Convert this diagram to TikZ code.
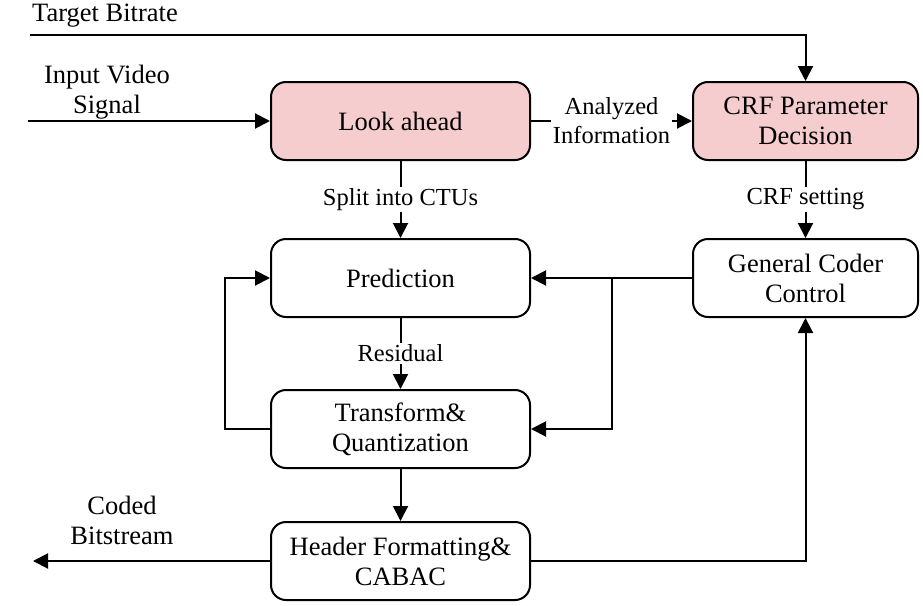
\documentclass[tikz,border=0pt]{standalone}
\usepackage{fontspec}
\setmainfont{Liberation Serif}
\usetikzlibrary{arrows.meta}
\definecolor{pinkc}{RGB}{246,205,207}
\begin{document}
\begin{tikzpicture}[x=1pt,y=-1pt,
  box/.style={draw, line width=2pt, rounded corners=15pt, minimum width=259pt, minimum height=78pt, align=center, inner sep=0pt, font=\fontsize{26.5}{30}\selectfont},
  arr/.style={line width=2pt, -{Triangle[length=15pt,width=15pt]}},
  lab/.style={fill=white, inner sep=1.5pt, align=center, font=\fontsize{24.5}{29}\selectfont},
  txt/.style={inner sep=0pt, align=center, font=\fontsize{26.5}{30}\selectfont}]
\useasboundingbox (0,0) rectangle (923,605);
% boxes
\node[box, fill=pinkc] (look) at (400.5,121) {Look ahead};
\node[box, fill=pinkc, minimum width=225pt] (crf) at (805.5,121) {CRF Parameter\\Decision};
\node[box] (pred) at (400.5,278) {Prediction};
\node[box] (trans) at (400.5,429) {Transform\&\\Quantization};
\node[box] (head) at (400.5,561) {Header Formatting\&\\CABAC};
\node[box, minimum width=225pt] (gcc) at (805.5,278) {General Coder\\Control};
% free texts
\node[txt, anchor=west] (tbt) at (32,16) {Target Bitrate};
\node[txt] (ivt) at (107,92) {Input Video\\Signal};
\node[txt] (cbt) at (122,520) {Coded\\Bitstream};
% free ends
\coordinate (tb0) at (30,35);
\coordinate (iv0) at (28,121);
\coordinate (out) at (33,561);
\coordinate (br) at (612,278);
\coordinate (fb) at (225,429);
% connectors
\draw[arr] (tb0) -| (crf.north);
\draw[arr] (iv0) -- (look.west);
\draw[arr] (look.east) -- node[lab] {Analyzed\\Information} (crf.west);
\draw[arr] (look.south) -- node[lab] {Split into CTUs} (pred.north);
\draw[arr] (crf.south) -- node[lab] {CRF setting} (gcc.north);
\draw[arr] (pred.south) -- node[lab] {Residual} (trans.north);
\draw[arr] (trans.south) -- (head.north);
\draw[arr] (gcc.west) -- (pred.east);
\draw[arr] (br) |- (trans.east);
\draw[arr] (trans.west) -- (fb) |- (pred.west);
\draw[arr] (head.west) -- (out);
\draw[arr] (head.east) -| (gcc.south);
\end{tikzpicture}
\end{document}
